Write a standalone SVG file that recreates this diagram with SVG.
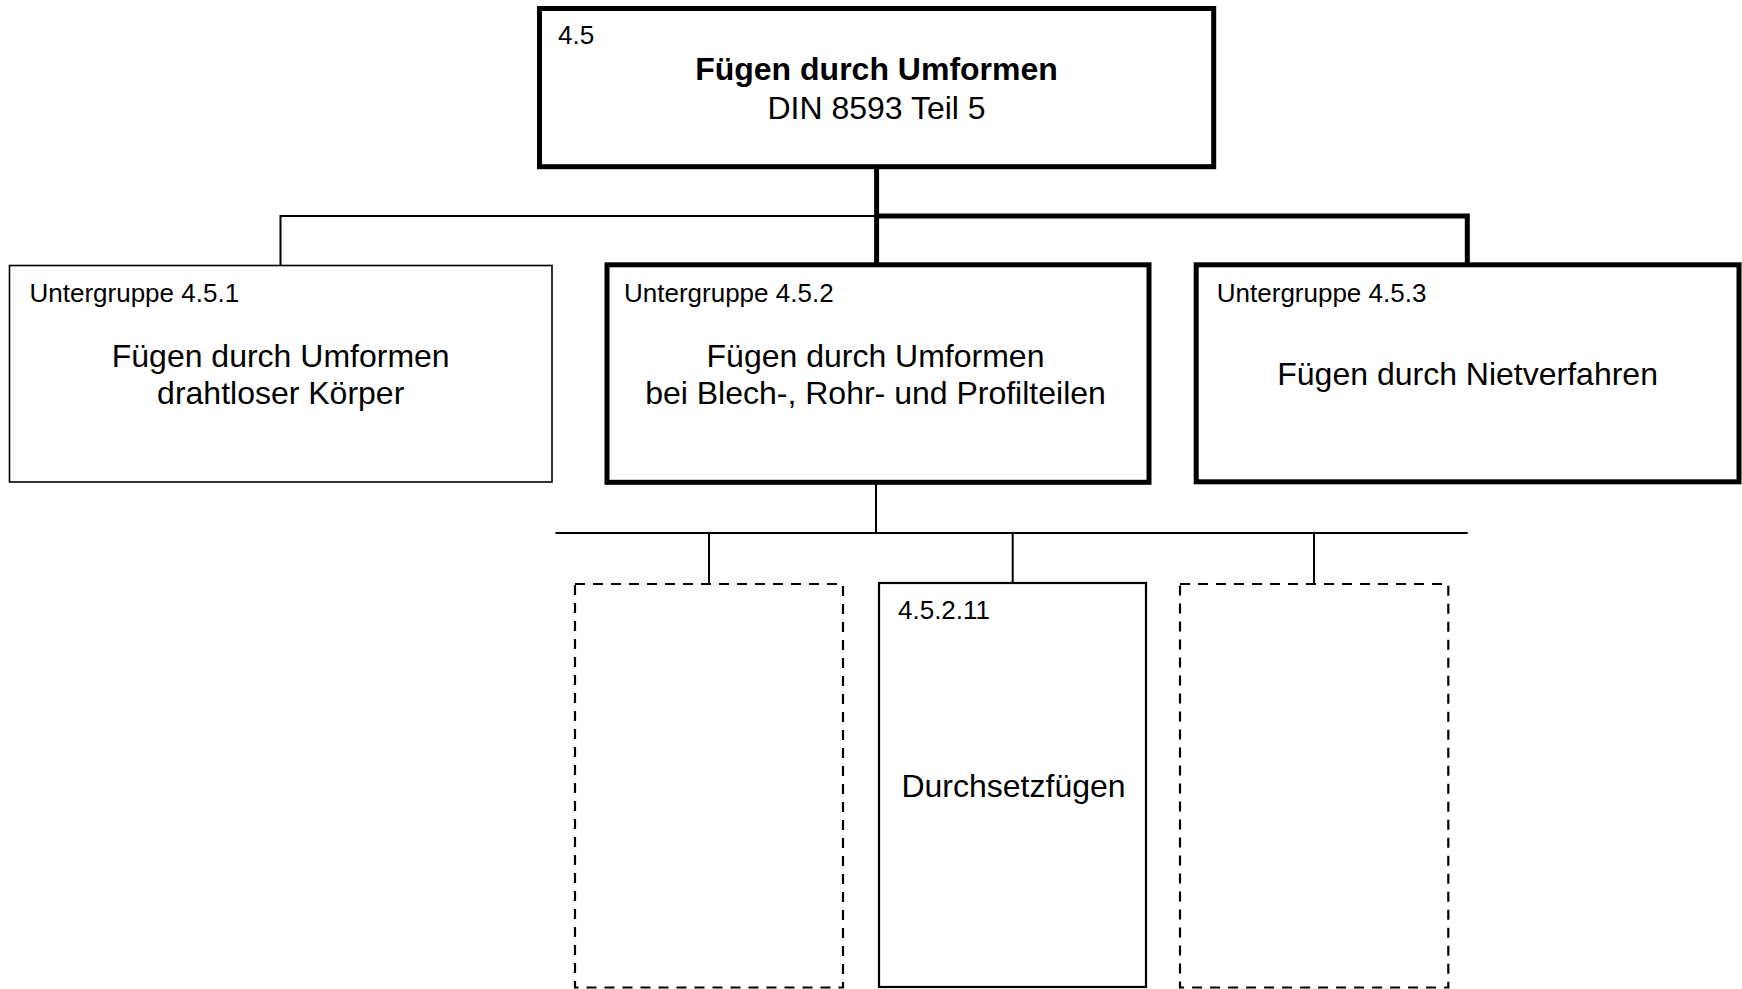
<svg xmlns="http://www.w3.org/2000/svg" width="1742" height="989" viewBox="0 0 1742 989">
  <style>
    text { font-family: "Liberation Sans", Arial, sans-serif; fill: #000; }
    .lbl { font-size: 26px; }
    .main { font-size: 32px; text-anchor: middle; }
    .bold { font-weight: bold; }
    .thick { fill: #fff; stroke: #000; stroke-width: 5; }
    .thin { fill: #fff; stroke: #000; stroke-width: 1.6; }
    .mid { fill: #fff; stroke: #000; stroke-width: 2.2; }
    .dash { fill: #fff; stroke: #000; stroke-width: 2.2; stroke-dasharray: 10 8; }
    .c-thick { fill: none; stroke: #000; stroke-width: 5; }
    .c-thin { fill: none; stroke: #000; stroke-width: 2; }
  </style>
  <rect width="1742" height="989" fill="#fff"/>
  <g id="connectors">
    <path class="c-thin" d="M876.6 216 H280.5 V265.5"/>
    <path class="c-thick" d="M876.6 166.7 V264.8"/>
    <path class="c-thick" d="M876.6 216 H1467.3 V264.8"/>
    <path class="c-thin" d="M876 482 V533"/>
    <path class="c-thin" d="M555.5 533 H1467.7"/>
    <path class="c-thin" d="M709 533 V584"/>
    <path class="c-thin" d="M1012.7 533 V583"/>
    <path class="c-thin" d="M1314 533 V584"/>
  </g>
  <g id="node-4-5">
    <rect class="thick" x="539.5" y="8.5" width="674.2" height="158.2"/>
    <text class="lbl" x="558" y="44">4.5</text>
    <text class="main bold" x="876.5" y="80">Fügen durch Umformen</text>
    <text class="main" x="876.5" y="119">DIN 8593 Teil 5</text>
  </g>
  <g id="node-4-5-1">
    <rect class="thin" x="9.5" y="265.5" width="542.5" height="216.5"/>
    <text class="lbl" x="29.5" y="301.5">Untergruppe 4.5.1</text>
    <text class="main" x="280.7" y="366.5">Fügen durch Umformen</text>
    <text class="main" x="280.7" y="404">drahtloser Körper</text>
  </g>
  <g id="node-4-5-2">
    <rect class="thick" x="607" y="264.8" width="542" height="217.5"/>
    <text class="lbl" x="624" y="301.5">Untergruppe 4.5.2</text>
    <text class="main" x="875.5" y="366.5">Fügen durch Umformen</text>
    <text class="main" x="875.5" y="404">bei Blech-, Rohr- und Profilteilen</text>
  </g>
  <g id="node-4-5-3">
    <rect class="thick" x="1196.2" y="264.8" width="542.8" height="217"/>
    <text class="lbl" x="1216.8" y="301.5">Untergruppe 4.5.3</text>
    <text class="main" x="1467.6" y="385">Fügen durch Nietverfahren</text>
  </g>
  <g id="node-empty-left">
    <rect class="dash" x="575" y="584" width="268" height="403.5"/>
  </g>
  <g id="node-4-5-2-11">
    <rect class="mid" x="879" y="583" width="267" height="404"/>
    <text class="lbl" x="898" y="619">4.5.2.11</text>
    <text class="main" x="1013.5" y="796.7">Durchsetzfügen</text>
  </g>
  <g id="node-empty-right">
    <rect class="dash" x="1180" y="584" width="268.3" height="403.5"/>
  </g>
</svg>
